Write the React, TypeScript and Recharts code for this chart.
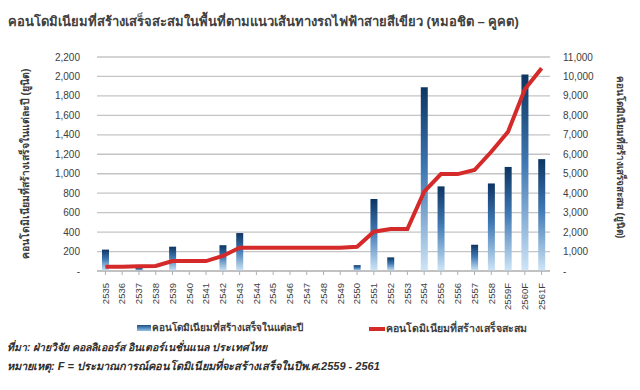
import React from "react";
import { ComposedChart, Bar, Line, XAxis, YAxis, CartesianGrid } from "recharts";

const years = ["2535","2536","2537","2538","2539","2540","2541","2542","2543","2544","2545","2546","2547","2548","2549","2550","2551","2552","2553","2554","2555","2556","2557","2558","2559F","2560F","2561F"];
const annualUnits = [220,0,35,0,250,0,0,265,390,0,0,0,0,0,0,60,740,140,0,1890,870,0,270,900,1070,2020,1150];
const cumulativeUnits = [220,220,250,260,510,510,510,775,1200,1200,1200,1200,1200,1200,1200,1250,2020,2160,2160,4080,4980,4980,5190,6130,7160,9340,10420];
const leftTicks = [0,200,400,600,800,1000,1200,1400,1600,1800,2000,2200];
const rightTicks = [0,1000,2000,3000,4000,5000,6000,7000,8000,9000,10000,11000];

const title = "คอนโดมิเนียมที่สร้างเสร็จสะสมในพื้นที่ตามแนวเส้นทางรถไฟฟ้าสายสีเขียว (หมอชิต – คูคต)";
const leftLabel = "คอนโดมิเนียมที่สร้างเสร็จในแต่ละปี (ยูนิต)";
const rightLabel = "คอนโดมิเนียมที่สร้างเสร็จสะสม (ยูนิต)";
const barName = "คอนโดมิเนียมที่สร้างเสร็จในแต่ละปี";
const lineName = "คอนโดมิเนียมที่สร้างเสร็จสะสม";
const source = "ที่มา: ฝ่ายวิจัย คอลลิเออร์ส อินเตอร์เนชั่นแนล ประเทศไทย";
const note = "หมายเหตุ: F = ประมาณการณ์คอนโดมิเนียมที่จะสร้างเสร็จในปีพ.ศ.2559 - 2561";

const data = years.map((y, i) => ({ year: y, annual: annualUnits[i], cumulative: cumulativeUnits[i] }));

const FONT = "'Liberation Sans', 'Noto Sans', sans-serif";
const fmt = (v: number) => (v === 0 ? "-" : v.toLocaleString("en-US"));

const XTick = (props: any) => {
  const { x, y, payload } = props;
  return (
    <g transform={`translate(${x},${y})`}>
      <text transform="rotate(-90)" textAnchor="end" dy="0.35em" fontSize={9.5} fill="#404040" fontFamily={FONT}>
        {payload.value}
      </text>
    </g>
  );
};

export default function App() {
  return (
    <div style={{ position: "relative", width: 640, height: 390, margin: "-8px 0 0 -8px", background: "#fff", fontFamily: FONT, overflow: "hidden" }}>
      <div style={{ position: "absolute", left: 8, top: 11, fontSize: 13, fontWeight: 700, color: "#404040", whiteSpace: "nowrap" }}>{title}</div>
      <ComposedChart width={640} height={315} data={data} margin={{ top: 57, right: 30, bottom: 4, left: 37 }} barCategoryGap={0}>
        <defs>
          <linearGradient id="barGrad" x1="0" y1="0" x2="0" y2="1">
            <stop offset="0%" stopColor="#0d3562" />
            <stop offset="45%" stopColor="#3f78b3" />
            <stop offset="100%" stopColor="#cfe5f7" />
          </linearGradient>
        </defs>
        <CartesianGrid vertical={false} stroke="#c4c4c4" strokeWidth={1.3} yAxisId="left" />
        <XAxis dataKey="year" height={40} tick={<XTick />} interval={0} stroke="#b0b0b0" tickSize={4} tickMargin={8} />
        <YAxis yAxisId="left" domain={[0, 2200]} ticks={leftTicks} tickFormatter={fmt} width={60} axisLine={false} tickLine={false} tickSize={0} tickMargin={17} tick={{ fontSize: 10, fill: "#404040", fontFamily: FONT }} interval={0} />
        <YAxis yAxisId="right" orientation="right" domain={[0, 11000]} ticks={rightTicks} tickFormatter={fmt} width={60} axisLine={false} tickLine={false} tickSize={0} tickMargin={13} tick={{ fontSize: 10, fill: "#404040", fontFamily: FONT }} interval={0} />
        <Bar yAxisId="left" dataKey="annual" barSize={7} fill="url(#barGrad)" isAnimationActive={false} />
        <Line yAxisId="right" dataKey="cumulative" type="linear" stroke="#d42a2a" strokeWidth={4} dot={false} isAnimationActive={false} />
      </ComposedChart>
      <div style={{ position: "absolute", left: 25, top: 164, transform: "translate(-50%,-50%) rotate(-90deg)", fontSize: 10.5, fontWeight: 700, color: "#404040", whiteSpace: "nowrap" }}>{leftLabel}</div>
      <div style={{ position: "absolute", left: 620, top: 157, transform: "translate(-50%,-50%) rotate(90deg)", fontSize: 10, fontWeight: 700, color: "#404040", whiteSpace: "nowrap" }}>{rightLabel}</div>
      <div style={{ position: "absolute", left: 137, top: 320, display: "flex", alignItems: "center", fontSize: 10, fontWeight: 700, color: "#404040", whiteSpace: "nowrap" }}>
        <span style={{ display: "inline-block", width: 14, height: 6, background: "linear-gradient(#1a4f86, #8fc0ea)", marginRight: 1 }} />
        {barName}
      </div>
      <div style={{ position: "absolute", left: 369, top: 320, display: "flex", alignItems: "center", fontSize: 10.5, fontWeight: 700, color: "#404040", whiteSpace: "nowrap" }}>
        <span style={{ display: "inline-block", width: 16, height: 4, background: "#d42a2a", marginRight: 1 }} />
        {lineName}
      </div>
      <div style={{ position: "absolute", left: 7, top: 339, fontSize: 10.5, fontWeight: 700, fontStyle: "italic", color: "#303030", whiteSpace: "nowrap" }}>{source}</div>
      <div style={{ position: "absolute", left: 7, top: 357, fontSize: 11, fontWeight: 700, fontStyle: "italic", color: "#303030", whiteSpace: "nowrap" }}>{note}</div>
    </div>
  );
}
